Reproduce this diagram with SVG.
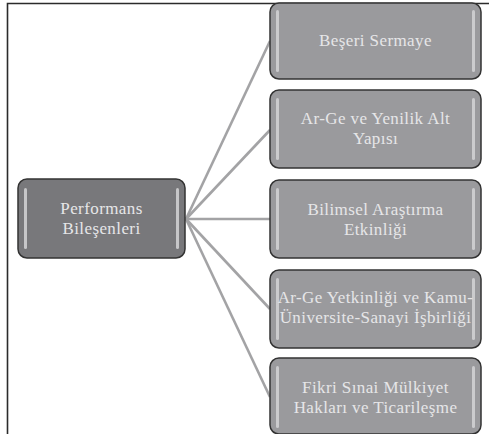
<svg xmlns="http://www.w3.org/2000/svg" width="489" height="434" viewBox="0 0 489 434">
<defs>
<style>
.frame{stroke:#2b2b2b;stroke-width:1.6;fill:none}
.box{fill:#9a9a9d;stroke:#333;stroke-width:1.5}
.main{fill:#78787b;stroke:#333;stroke-width:1.5}
.hl{fill:#d4d4d6;opacity:0.85}
.conn line{stroke:#a3a3a5;stroke-width:2.6}
text{font-family:"Liberation Serif","Times New Roman",serif;font-size:17px;letter-spacing:0.4px;fill:#e6e6e8;text-anchor:middle}
</style>
</defs>
<rect width="489" height="434" fill="#fff"/>
<path class="frame" d="M7.5 434 V3.5 H489"/>
<g id="connectors" class="conn">
<line x1="186" y1="219" x2="270" y2="41"/>
<line x1="186" y1="219" x2="270" y2="130"/>
<line x1="186" y1="219" x2="270" y2="219"/>
<line x1="186" y1="219" x2="270" y2="309"/>
<line x1="186" y1="219" x2="270" y2="397"/>
</g>
<g id="performans">
<rect class="main" x="18" y="179" width="167" height="79" rx="9"/>
<rect class="hl" x="24" y="188" width="3" height="61" rx="1.5"/>
<rect class="hl" x="176" y="188" width="3" height="61" rx="1.5"/>
<text x="101.5" y="214">Performans</text>
<text x="101.5" y="234">Bileşenleri</text>
</g>
<g id="beseri">
<rect class="box" x="270" y="3" width="211" height="76" rx="9"/>
<rect class="hl" x="276" y="10" width="3" height="62" rx="1.5"/>
<rect class="hl" x="472" y="10" width="3" height="62" rx="1.5"/>
<text x="375.5" y="46">Beşeri Sermaye</text>
</g>
<g id="arge">
<rect class="box" x="270" y="90" width="211" height="78" rx="9"/>
<rect class="hl" x="276" y="98" width="3" height="62" rx="1.5"/>
<rect class="hl" x="472" y="98" width="3" height="62" rx="1.5"/>
<text x="375.5" y="124">Ar-Ge ve Yenilik Alt</text>
<text x="375.5" y="144">Yapısı</text>
</g>
<g id="bilimsel">
<rect class="box" x="270" y="180" width="211" height="78" rx="9"/>
<rect class="hl" x="276" y="188" width="3" height="62" rx="1.5"/>
<rect class="hl" x="472" y="188" width="3" height="62" rx="1.5"/>
<text x="375.5" y="215">Bilimsel Araştırma</text>
<text x="375.5" y="235">Etkinliği</text>
</g>
<g id="yetkinlik">
<rect class="box" x="270" y="270" width="211" height="78" rx="9"/>
<rect class="hl" x="276" y="278" width="3" height="62" rx="1.5"/>
<rect class="hl" x="472" y="278" width="3" height="62" rx="1.5"/>
<text x="375.5" y="303">Ar-Ge Yetkinliği ve Kamu-</text>
<text x="375.5" y="323">Üniversite-Sanayi İşbirliği</text>
</g>
<g id="fikri">
<rect class="box" x="270" y="358" width="211" height="76" rx="9"/>
<rect class="hl" x="276" y="366" width="3" height="62" rx="1.5"/>
<rect class="hl" x="472" y="366" width="3" height="62" rx="1.5"/>
<text x="375.5" y="393">Fikri Sınai Mülkiyet</text>
<text x="375.5" y="413">Hakları ve Ticarileşme</text>
</g>
</svg>
